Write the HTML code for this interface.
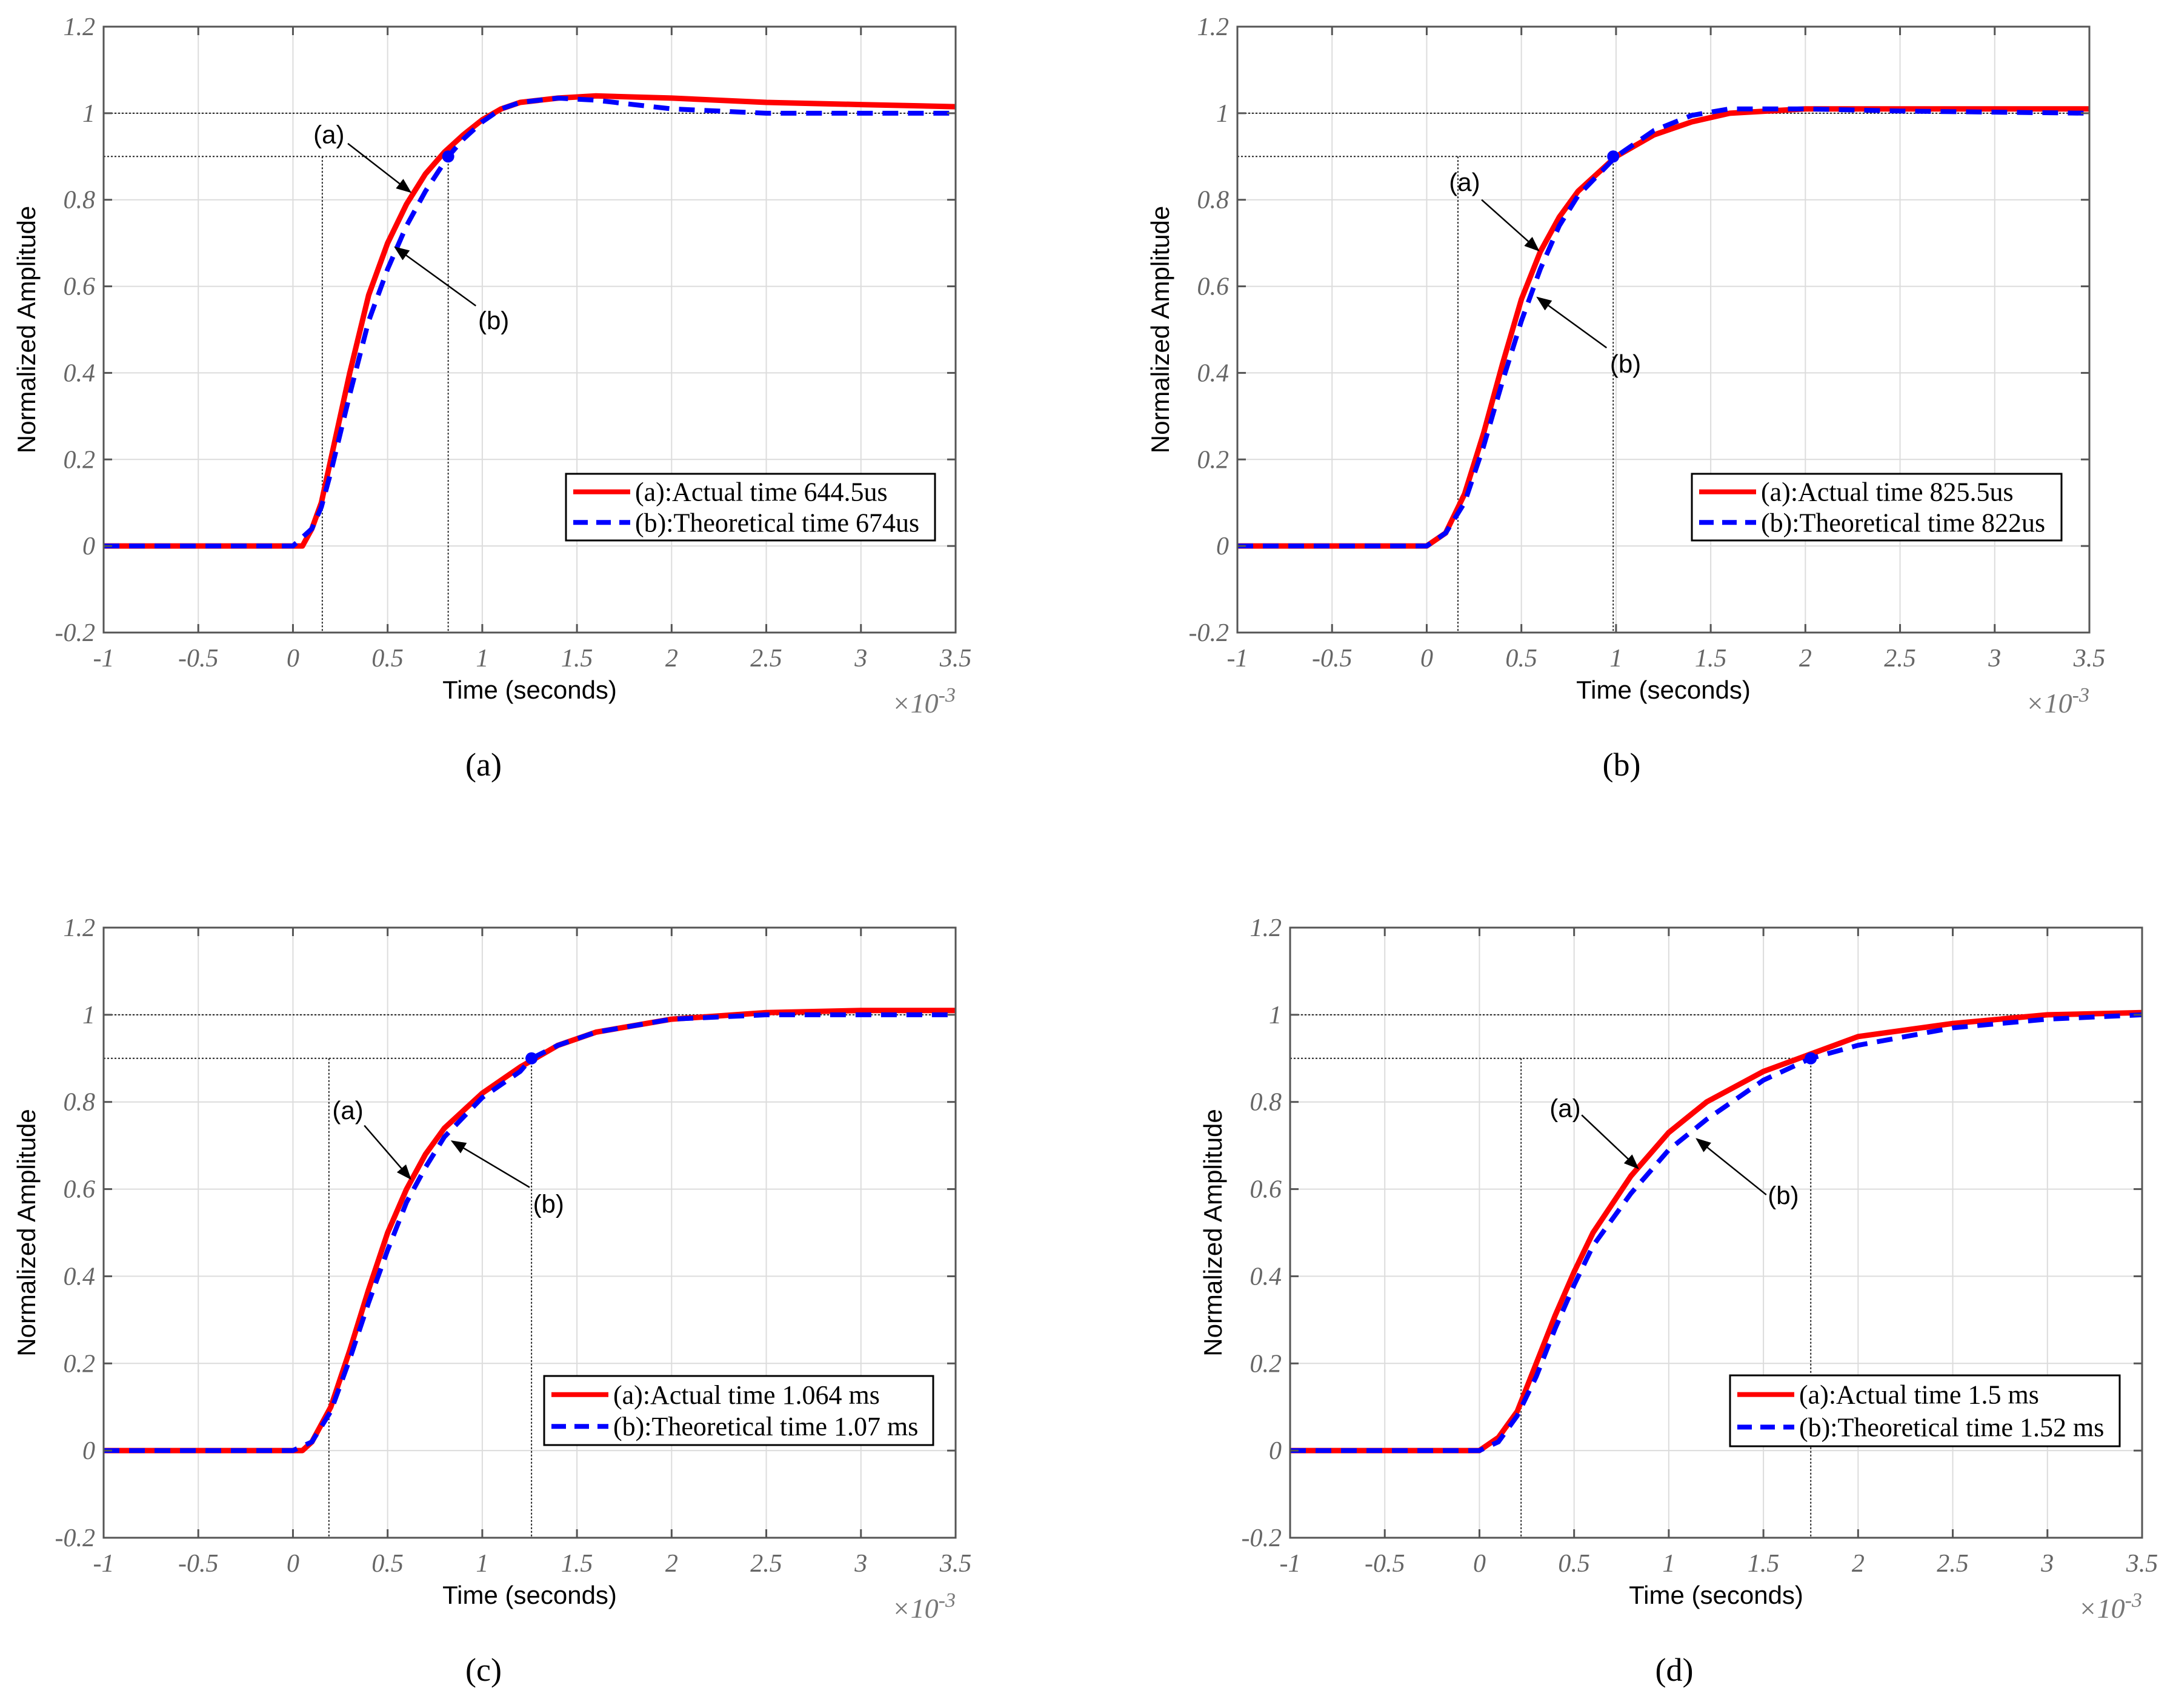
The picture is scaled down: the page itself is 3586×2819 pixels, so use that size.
<!DOCTYPE html>
<html><head><meta charset="utf-8"><style>
html,body{margin:0;padding:0;background:#fff;}
svg{display:block;}
</style></head><body>
<svg id="fig" xmlns="http://www.w3.org/2000/svg" width="3586" height="2819" viewBox="0 0 3586 2819"></svg>
<script>
// ---- data (x in ms, y normalized) ----
const xTicks = [-1,-0.5,0,0.5,1,1.5,2,2.5,3,3.5];
const xTickLabels = ["-1","-0.5","0","0.5","1","1.5","2","2.5","3","3.5"];
const yTicks = [-0.2,0,0.2,0.4,0.6,0.8,1,1.2];
const yTickLabels = ["-0.2","0","0.2","0.4","0.6","0.8","1","1.2"];

const aX_actual = [-1,0,0.05,0.1,0.15,0.2,0.3,0.4,0.5,0.6,0.7,0.8,0.9,1.0,1.1,1.2,1.4,1.6,2.0,2.5,3.0,3.5];
const aY_actual = [0,0,0,0.04,0.1,0.2,0.4,0.58,0.7,0.79,0.86,0.91,0.95,0.985,1.01,1.025,1.035,1.04,1.035,1.025,1.02,1.015];
const aX_theory = [-1,0,0.1,0.15,0.2,0.3,0.4,0.5,0.6,0.7,0.82,0.9,1.0,1.1,1.2,1.4,1.6,1.8,2.0,2.5,3.5];
const aY_theory = [0,0,0.04,0.09,0.17,0.35,0.52,0.64,0.74,0.82,0.9,0.94,0.98,1.01,1.025,1.035,1.03,1.02,1.01,1.0,1.0];
const aMarks = [0.155,0.82];

const bX_actual = [-1,0,0.1,0.2,0.3,0.4,0.5,0.6,0.7,0.8,1.0,1.2,1.4,1.6,2.0,3.5];
const bY_actual = [0,0,0.03,0.12,0.26,0.42,0.57,0.68,0.76,0.82,0.9,0.95,0.98,1.0,1.01,1.01];
const bX_theory = [-1,0,0.1,0.2,0.3,0.4,0.5,0.6,0.7,0.8,1.0,1.2,1.4,1.6,2.0,2.5,3.5];
const bY_theory = [0,0,0.03,0.1,0.23,0.38,0.52,0.64,0.74,0.81,0.9,0.96,0.995,1.01,1.01,1.005,1.0];
const bMarks = [0.165,0.985];

const cX_actual = [-1,0,0.05,0.1,0.2,0.3,0.4,0.5,0.6,0.7,0.8,1.0,1.2,1.4,1.6,2.0,2.5,3.0,3.5];
const cY_actual = [0,0,0,0.02,0.1,0.23,0.37,0.5,0.6,0.68,0.74,0.82,0.88,0.93,0.96,0.99,1.005,1.01,1.01];
const cX_theory = [-1,0,0.1,0.2,0.3,0.4,0.5,0.6,0.7,0.8,1.0,1.2,1.26,1.4,1.6,2.0,2.5,3.5];
const cY_theory = [0,0,0.02,0.09,0.21,0.34,0.46,0.57,0.65,0.72,0.81,0.87,0.9,0.93,0.96,0.99,1.0,1.0];
const cMarks = [0.19,1.26];

const dX_actual = [-1,0,0.1,0.2,0.3,0.4,0.5,0.6,0.8,1.0,1.2,1.5,1.75,2.0,2.5,3.0,3.5];
const dY_actual = [0,0,0.03,0.09,0.2,0.31,0.41,0.5,0.63,0.73,0.8,0.87,0.91,0.95,0.98,1.0,1.005];
const dX_theory = [-1,0,0.1,0.2,0.3,0.4,0.5,0.6,0.8,1.0,1.2,1.5,1.75,2.0,2.5,3.0,3.5];
const dY_theory = [0,0,0.02,0.08,0.17,0.28,0.38,0.47,0.59,0.69,0.76,0.85,0.9,0.93,0.97,0.99,1.0];
const dMarks = [0.22,1.75];

const legendA = ["(a):Actual time 644.5us","(b):Theoretical time 674us"];
const legendB = ["(a):Actual time 825.5us","(b):Theoretical time 822us"];
const legendC = ["(a):Actual time 1.064 ms","(b):Theoretical time 1.07 ms"];
const legendD = ["(a):Actual time 1.5 ms","(b):Theoretical time 1.52 ms"];

const NS="http://www.w3.org/2000/svg";
const svg=document.getElementById('fig');
function mk(tag,attrs,parent){const e=document.createElementNS(NS,tag);for(const k in attrs)e.setAttribute(k,attrs[k]);(parent||svg).appendChild(e);return e;}

const panels=[
 {id:'a',L:171,R:1577,T:44,B:1044,xa:aX_actual,ya:aY_actual,xt:aX_theory,yt:aY_theory,marks:aMarks,leg:legendA,lg:[934,782,1543,892],cap:[798,1262],
  ann:[["(a)",0.19,0.95,0.29,0.93,0.62,0.818],["(b)",1.06,0.52,0.966,0.555,0.54,0.69]]},
 {id:'b',L:2042,R:3448,T:44,B:1044,xa:bX_actual,ya:bY_actual,xt:bX_theory,yt:bY_theory,marks:bMarks,leg:legendB,lg:[2792,782,3402,892],cap:[2676,1262],
  ann:[["(a)",0.2,0.84,0.29,0.80,0.59,0.683],["(b)",1.05,0.42,0.95,0.458,0.585,0.574]]},
 {id:'c',L:171,R:1577,T:1531,B:2538,xa:cX_actual,ya:cY_actual,xt:cX_theory,yt:cY_theory,marks:cMarks,leg:legendC,lg:[898,2271,1540,2385],cap:[798,2756],
  ann:[["(a)",0.29,0.78,0.377,0.746,0.62,0.624],["(b)",1.35,0.565,1.25,0.604,0.84,0.71]]},
 {id:'d',L:2129,R:3535,T:1531,B:2538,xa:dX_actual,ya:dY_actual,xt:dX_theory,yt:dY_theory,marks:dMarks,leg:legendD,lg:[2855,2270,3498,2387],cap:[2763,2756],
  ann:[["(a)",0.453,0.785,0.54,0.77,0.837,0.648],["(b)",1.605,0.585,1.515,0.587,1.148,0.715]]}
];

mk('defs',{}).innerHTML='<marker id="arr" markerWidth="10" markerHeight="8" refX="9" refY="4" orient="auto" markerUnits="strokeWidth"><path d="M0,0 L10,4 L0,8 Z" fill="#000"/></marker>';

panels.forEach(p=>{
  const g=mk('g',{});
  
  
  const sx=v=>p.L+(v+1)/4.5*(p.R-p.L);
  const sy=v=>p.B-(v+0.2)/1.4*(p.B-p.T);
  xTicks.forEach(t=>{const l=mk('line',{x1:sx(t),x2:sx(t),y1:p.T,y2:p.B,stroke:'#dcdcdc','stroke-width':2},g);});
  yTicks.forEach(t=>{const l=mk('line',{x1:p.L,x2:p.R,y1:sy(t),y2:sy(t),stroke:'#dcdcdc','stroke-width':2},g);});
  let r=mk('line',{x1:p.L,x2:p.R,y1:sy(1),y2:sy(1),stroke:'#222','stroke-width':2,'stroke-dasharray':'3,3'},g);
  
  r=mk('line',{x1:p.L,x2:sx(p.marks[1]),y1:sy(0.9),y2:sy(0.9),stroke:'#222','stroke-width':2,'stroke-dasharray':'3,3'},g);
  
  p.marks.forEach(m=>{const v=mk('line',{x1:sx(m),x2:sx(m),y1:sy(0.9),y2:p.B,stroke:'#222','stroke-width':2,'stroke-dasharray':'3,3'},g);});
  const path=(xs,ys)=>xs.map((x,i)=>(i?'L':'M')+sx(x).toFixed(1)+','+sy(ys[i]).toFixed(1)).join(' ');
  const ra=mk('path',{d:path(p.xa,p.ya),fill:'none',stroke:'#ff0000','stroke-width':9,'stroke-linejoin':'round'},g);
  
  const bt=mk('path',{d:path(p.xt,p.yt),fill:'none',stroke:'#0000ff','stroke-width':8,'stroke-dasharray':'26,16'},g);
  
  const dot=mk('circle',{cx:sx(p.marks[1]),cy:sy(0.9),r:10,fill:'#0000ff'},g);
  
  const box=mk('rect',{x:p.L,y:p.T,width:p.R-p.L,height:p.B-p.T,fill:'none',stroke:'#555','stroke-width':3},g);
  
  xTicks.forEach((t,i)=>{
    mk('line',{x1:sx(t),x2:sx(t),y1:p.B,y2:p.B-14,stroke:'#555','stroke-width':3},g);
    mk('line',{x1:sx(t),x2:sx(t),y1:p.T,y2:p.T+14,stroke:'#555','stroke-width':3},g);
    const tx=mk('text',{x:sx(t),y:p.B+56,'text-anchor':'middle','font-family':'Liberation Serif, serif','font-style':'italic','font-size':42,fill:'#666'},g);
    tx.textContent=xTickLabels[i];
  });
  yTicks.forEach((t,i)=>{
    mk('line',{x1:p.L,x2:p.L+14,y1:sy(t),y2:sy(t),stroke:'#555','stroke-width':3},g);
    mk('line',{x1:p.R,x2:p.R-14,y1:sy(t),y2:sy(t),stroke:'#555','stroke-width':3},g);
    const ty=mk('text',{x:p.L-14,y:sy(t)+14,'text-anchor':'end','font-family':'Liberation Serif, serif','font-style':'italic','font-size':42,fill:'#666'},g);
    ty.textContent=yTickLabels[i];
  });
  const xl=mk('text',{x:(p.L+p.R)/2,y:p.B+109,'text-anchor':'middle','font-family':'Liberation Sans, sans-serif','font-size':42,fill:'#000'},g);
  xl.textContent='Time (seconds)';
  const ex=mk('text',{x:p.R,y:p.B+132,'text-anchor':'end','font-family':'Liberation Serif, serif','font-style':'italic','font-size':46,fill:'#777'},g);
  ex.innerHTML='×10<tspan dy="-18" font-size="34">-3</tspan>';
  const yl=mk('text',{x:0,y:0,transform:`translate(${p.L-113},${(p.T+p.B)/2}) rotate(-90)`,'text-anchor':'middle','font-family':'Liberation Sans, sans-serif','font-size':42,fill:'#000'},g);
  yl.textContent='Normalized Amplitude';
  p.ann.forEach(a=>{
    const t=mk('text',{x:sx(a[1]),y:sy(a[2])+14,'text-anchor':'middle','font-family':'Liberation Sans, sans-serif','font-size':42,fill:'#000'},g);
    t.textContent=a[0];
    const l=mk('line',{x1:sx(a[3]),y1:sy(a[4]),x2:sx(a[5]),y2:sy(a[6]),stroke:'#000','stroke-width':2.5,'marker-end':'url(#arr)'},g);
    
  });
  const [lx,ly,lx2,ly2]=p.lg;
  const lgG=mk('g',{},g);
  mk('rect',{x:lx,y:ly,width:lx2-lx,height:ly2-ly,fill:'#fff',stroke:'#000','stroke-width':3},lgG);
  const h=(ly2-ly);
  mk('line',{x1:lx+12,x2:lx+106,y1:ly+h*0.27,y2:ly+h*0.27,stroke:'#ff0000','stroke-width':8},lgG);
  mk('line',{x1:lx+12,x2:lx+106,y1:ly+h*0.73,y2:ly+h*0.73,stroke:'#0000ff','stroke-width':8,'stroke-dasharray':'24,14'},lgG);
  p.leg.forEach((s,i)=>{const t=mk('text',{x:lx+114,y:ly+h*(i?0.73:0.27)+15,'font-family':'Liberation Serif, serif','font-size':44,fill:'#000'},lgG);
    t.textContent=s;});
  const cap=mk('text',{x:p.cap[0],y:p.cap[1]+18,'text-anchor':'middle','font-family':'Liberation Serif, serif','font-size':54,fill:'#000'},svg);
  cap.textContent='('+p.id+')';
});
</script>
</body></html>
